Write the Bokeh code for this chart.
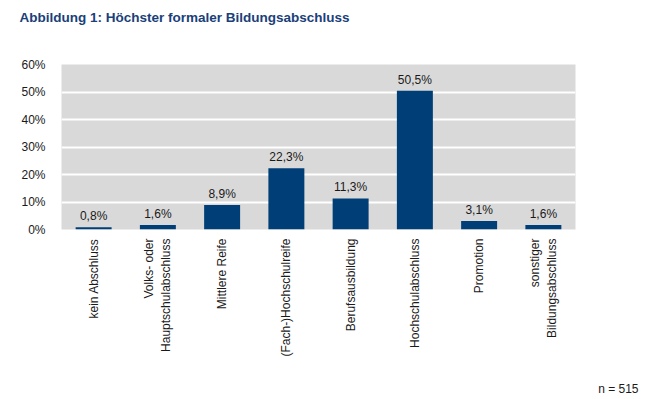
from bokeh.plotting import figure
from bokeh.models import Title, FixedTicker, ColumnDataSource
from bokeh.core.properties import value
from bokeh.embed import file_html
from bokeh.resources import INLINE

categories = ["kein Abschluss", "Volks- oder\nHauptschulabschluss", "Mittlere Reife",
              "(Fach-)Hochschulreife", "Berufsausbildung", "Hochschulabschluss",
              "Promotion", "sonstiger\nBildungsabschluss"]
values = [0.8, 1.6, 8.9, 22.3, 11.3, 50.5, 3.1, 1.6]
value_labels = ["0,8%", "1,6%", "8,9%", "22,3%", "11,3%", "50,5%", "3,1%", "1,6%"]
y_ticks = [0, 10, 20, 30, 40, 50, 60]
y_tick_labels = ["0%", "10%", "20%", "30%", "40%", "50%", "60%"]
title_text = "Abbildung 1: Höchster formaler Bildungsabschluss"
note_text = "n = 515"

FONT = "Liberation Sans"
BAR = "#003E78"
TITLE_C = "#1A4079"

p = figure(x_range=categories, y_range=(0, 60), width=650, height=399,
           output_backend="svg", toolbar_location=None,
           min_border_left=61, min_border_right=75, min_border_top=64, min_border_bottom=170)
p.outline_line_color = None
p.background_fill_color = "#D9D9D9"
p.border_fill_color = "white"

src = ColumnDataSource(dict(x=categories, top=values, lab=value_labels))
p.vbar(x="x", top="top", width=0.56, source=src, fill_color=BAR, line_color=None)
p.text(x="x", y="top", text="lab", source=src, y_offset=-4,
       text_align="center", text_baseline="bottom",
       text_font=value(FONT), text_font_size="12px", text_color="#1a1a1a")

p.xgrid.grid_line_color = None
p.ygrid.grid_line_color = "white"
p.ygrid.grid_line_width = 2
p.ygrid.ticker = FixedTicker(ticks=y_ticks)

p.yaxis.ticker = FixedTicker(ticks=y_ticks)
p.yaxis.major_label_overrides = {t: l for t, l in zip(y_ticks, y_tick_labels)}
for ax in (p.xaxis, p.yaxis):
    ax.axis_line_color = None
    ax.major_tick_line_color = None
    ax.minor_tick_line_color = None
    ax.major_label_text_font = FONT
    ax.major_label_text_font_size = "12px"
    ax.major_label_text_color = "#1a1a1a"
p.yaxis.major_label_standoff = 10
p.xaxis.major_label_standoff = 3
p.xaxis.major_label_orientation = 3.14159265 / 2

# spacer between frame and title, then the title further out
p.add_layout(Title(text=" ", standoff=23, text_font=FONT, text_font_size="13.5px"), "above")
p.add_layout(Title(text=title_text, align="left", offset=-42, standoff=0,
                   text_font=FONT, text_font_size="13.5px", text_font_style="bold",
                   text_color=TITLE_C), "above")
# spacer below the axis, then the note
p.add_layout(Title(text=" ", standoff=4, text_font=FONT, text_font_size="12px"), "below")
p.add_layout(Title(text=note_text, align="right", offset=-63, standoff=0,
                   text_font=FONT, text_font_size="12px", text_font_style="normal",
                   text_color="#1a1a1a"), "below")

open("out.html", "w").write(file_html(p, INLINE))
